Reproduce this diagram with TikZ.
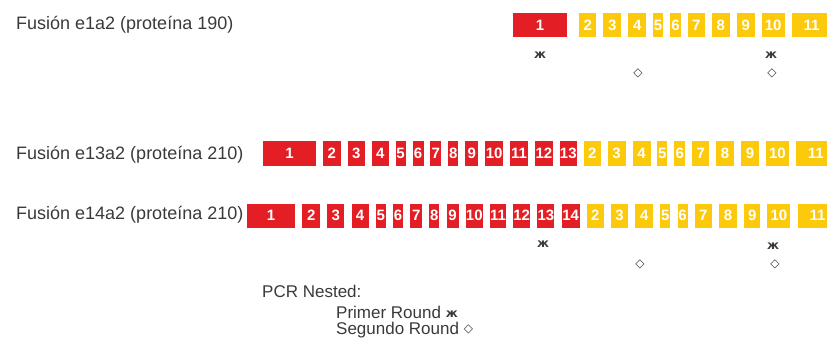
\documentclass[tikz,border=0pt]{standalone}
\usepackage{fontspec}
\setmainfont{Liberation Sans}
\newfontfamily\symfont{DejaVu Sans}
\usetikzlibrary{chains,positioning}
\definecolor{bcrred}{RGB}{227,30,36}
\definecolor{ablyellow}{RGB}{252,202,10}
\definecolor{labelgray}{RGB}{58,58,58}
\newcommand{\primersign}{{\symfont\bfseries\fontsize{12}{12}\selectfont ж}}
\newcommand{\nestsign}{{\symfont\bfseries\fontsize{12}{12}\selectfont ◇}}
\tikzset{
	exon/.style={
		rectangle, minimum height=24pt, inner sep=0pt,
		text=white, font=\fontsize{15}{15}\selectfont\bfseries
	},
	bcr/.style={exon, fill=bcrred, on chain},
	abl/.style={exon, fill=ablyellow, on chain},
	fusion/.style={anchor=west, inner sep=0pt, text=labelgray, font=\fontsize{18}{20}\selectfont},
	legend/.style={fusion, font=\fontsize{17}{20}\selectfont},
	primer/.style={text=labelgray, inner sep=0pt}
}

\begin{document}
\begin{tikzpicture}[x=1pt, y=-1pt]
				\useasboundingbox (0,0) rectangle (827,342);
				\node[fusion] (lab1) at (16,25) {Fusión e1a2 (proteína 190)};
				\node[fusion] (lab2) at (16,155) {Fusión e13a2 (proteína 210)};
				\node[fusion] (lab3) at (16,215) {Fusión e14a2 (proteína 210)};
				\begin{scope}[start chain=e1a2 going right, node distance=6.5pt]
					\node[bcr, minimum width=54pt] (e1a2-b1) at (540,25.5) {1};
					\node[abl, minimum width=17pt, right=12pt of e1a2-b1] (e1a2-a2) {2};
					\foreach \w [count=\i from 3] in {18,18,10,11,17,18,18,23,40}
						\node[abl, minimum width=\w pt] (e1a2-a\i) {\i};
				\end{scope}
				\begin{scope}[start chain=e13a2 going right, node distance=6.5pt]
					\node[bcr, minimum width=53pt] (e13a2-b1) at (289.5,153.5) {1};
					\foreach \w [count=\i from 2] in {18,17,17,10,11,11,10,13,18,18,18,17}
						\node[bcr, minimum width=\w pt] (e13a2-b\i) {\i};
					\foreach \w [count=\i from 2] in {17,18,18,10,11,17,18,18,23,40}
						\node[abl, minimum width=\w pt] (e13a2-a\i) {\i};
				\end{scope}
				\begin{scope}[start chain=e14a2 going right, node distance=6.8pt]
					\node[bcr, minimum width=48pt] (e14a2-b1) at (271,215.5) {1};
					\foreach \w [count=\i from 2] in {18,17,17,10,10,12,10,12,17,16,17,17,18}
						\node[bcr, minimum width=\w pt] (e14a2-b\i) {\i};
					\foreach \w [count=\i from 2] in {17,17,18,10,10,17,18,16,23,40}
						\node[abl, minimum width=\w pt] (e14a2-a\i) {\i};
				\end{scope}
				\node[primer] (p1a) at (540,55) {\primersign};
				\node[primer] (p1b) at (771,55) {\primersign};
				\node[primer] (n1a) at (638,73) {\nestsign};
				\node[primer] (n1b) at (772,73) {\nestsign};
				\node[primer] (p3a) at (543,244) {\primersign};
				\node[primer] (p3b) at (773,246) {\primersign};
				\node[primer] (n3a) at (640,264) {\nestsign};
				\node[primer] (n3b) at (775,264) {\nestsign};
				\node[legend] (pcr) at (262,291) {PCR Nested:};
				\node[legend] (first) at (336,312) {Primer Round \raisebox{1pt}{\primersign}};
				\node[legend] (second) at (336,330) {Segundo Round \raisebox{2pt}{\nestsign}};
			\end{tikzpicture}
\end{document}
